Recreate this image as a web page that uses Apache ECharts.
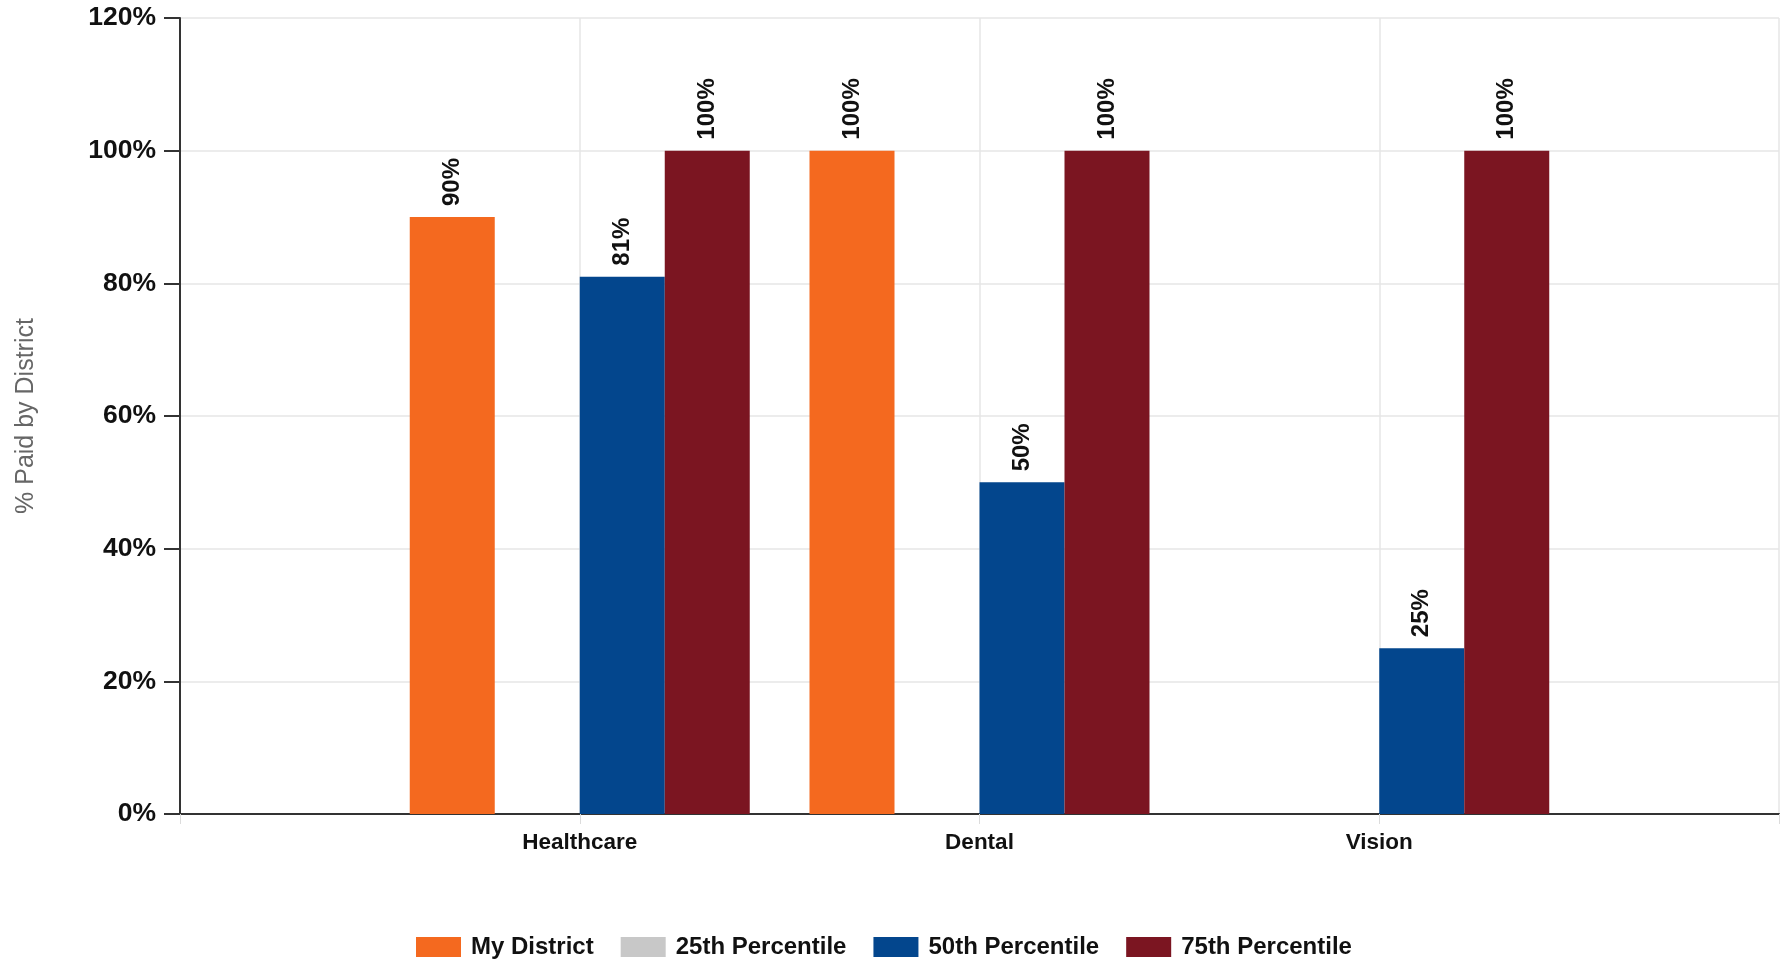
<!DOCTYPE html>
<html>
<head>
<meta charset="utf-8">
<title>% Paid by District</title>
<script src="https://cdn.jsdelivr.net/npm/echarts@6/dist/echarts.min.js"></script>
<style>
  html, body { margin: 0; padding: 0; background: #ffffff; }
  #chart { width: 1782px; height: 959px; }
</style>
</head>
<body>
<div id="chart"></div>
<script>
// Benefit categories and the share of premium paid by the district
const categories = ['Healthcare', 'Dental', 'Vision'];
const myDistrict = [90, 100, null];
const percentile25 = [null, null, null];
const percentile50 = [81, 50, 25];
const percentile75 = [100, 100, 100];
const yTicks = [0, 20, 40, 60, 80, 100, 120];

const seriesNames = ['My District', '25th Percentile', '50th Percentile', '75th Percentile'];
const seriesColors = ['#F4691F', '#C8C8C8', '#03468D', '#7B1521'];
const seriesValues = [myDistrict, percentile25, percentile50, percentile75];

// The axis has an empty slot on each side so the groups sit at the inner ticks
const axisCategories = [''].concat(categories, ['']);
const pad = arr => [null].concat(arr, [null]);

const font = 'Liberation Sans, Arial, Helvetica, sans-serif';

const chart = echarts.init(document.getElementById('chart'), null, { renderer: 'canvas' });

chart.setOption({
  backgroundColor: '#ffffff',
  animation: false,
  grid: { left: 180, top: 18, width: 1600, height: 796, containLabel: false },
  legend: {
    data: seriesNames,
    top: 930,
    left: 411,
    icon: 'rect',
    itemWidth: 45,
    itemHeight: 20,
    itemGap: 27,
    textStyle: {
      fontFamily: font, fontWeight: 'bold', fontSize: 24, color: '#111',
      padding: [0, 0, 0, 5]
    }
  },
  xAxis: {
    type: 'category',
    data: axisCategories,
    boundaryGap: false,
    axisLine: { lineStyle: { color: '#333', width: 2 } },
    axisTick: { show: true, length: 10, lineStyle: { color: '#dcdcdc', width: 1 } },
    splitLine: { show: true, lineStyle: { color: '#e6e6e6', width: 1.5 } },
    axisLabel: {
      fontFamily: font, fontWeight: 'bold', fontSize: 22.5, color: '#111', margin: 17
    }
  },
  yAxis: {
    type: 'value',
    min: yTicks[0],
    max: yTicks[yTicks.length - 1],
    interval: yTicks[1] - yTicks[0],
    name: '% Paid by District',
    nameLocation: 'middle',
    nameRotate: 90,
    nameGap: 141,
    nameTextStyle: { fontFamily: font, fontSize: 25, color: '#666' },
    axisLine: { show: true, lineStyle: { color: '#333', width: 2 } },
    axisTick: { show: true, length: 16, lineStyle: { color: '#333', width: 2 } },
    splitLine: { show: true, lineStyle: { color: '#e6e6e6', width: 1.5 } },
    axisLabel: {
      formatter: '{value}%',
      fontFamily: font, fontWeight: 'bold', fontSize: 26.5, color: '#111', margin: 24
    }
  },
  series: seriesNames.map((name, i) => ({
    name: name,
    type: 'bar',
    data: pad(seriesValues[i]),
    barWidth: 85,
    barGap: '0%',
    itemStyle: { color: seriesColors[i] },
    label: {
      show: true,
      position: 'top',
      distance: 11,
      rotate: 90,
      align: 'left',
      verticalAlign: 'middle',
      formatter: '{c}%',
      fontFamily: font,
      fontWeight: 'bold',
      fontSize: 24,
      color: '#111'
    }
  }))
});
</script>
</body>
</html>
